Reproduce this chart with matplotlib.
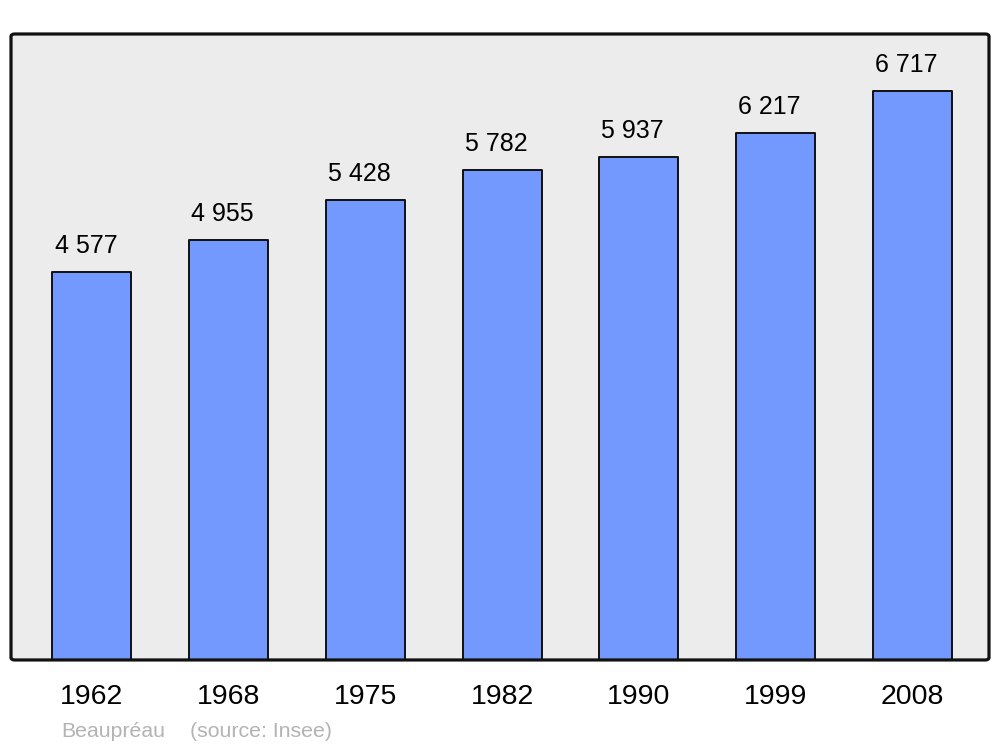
import numpy as np
import matplotlib.pyplot as plt
from matplotlib.patches import FancyBboxPatch

plt.rcParams['font.family'] = ['Liberation Sans', 'DejaVu Sans']

years = ['1962', '1968', '1975', '1982', '1990', '1999', '2008']
population = [4577, 4955, 5428, 5782, 5937, 6217, 6717]
value_labels = ['4 577', '4 955', '5 428', '5 782', '5 937', '6 217', '6 717']

fig = plt.figure(figsize=(10, 7.47), dpi=100)
ax = fig.add_axes([0.011, 0.1165, 0.978, 0.838])
ax.set_facecolor('#ececec')

x = np.arange(len(years))
width = 0.578
bars = ax.bar(x, population, width=width, color='#7399ff', edgecolor='#111111',
              linewidth=1.4, zorder=2)
for b in bars:
    b.set_joinstyle('round')

ax.set_xlim(-0.592, 6.56)
ax.set_ylim(0, max(population) * 1.1)

# value labels, left aligned over the bars
for xi, v, lab in zip(x, population, value_labels):
    ax.annotate(lab, (xi - width / 2, v), xytext=(1.5, 13.7), textcoords='offset points',
                ha='left', va='baseline', fontsize=18, color='black')

ax.set_xticks(x)
ax.set_xticklabels(years, fontsize=20.5)
ax.tick_params(axis='x', length=0, pad=17.5)
ax.set_yticks([])
for s in ax.spines.values():
    s.set_visible(False)

frame = FancyBboxPatch((0, 0), 1, 1, boxstyle='round,pad=0,rounding_size=0.004',
                       transform=ax.transAxes, facecolor='none', edgecolor='#111111',
                       linewidth=2.3, zorder=5, clip_on=False)
ax.add_patch(frame)

fig.text(0.061, 0.0134, 'Beaupréau', fontsize=15.3, color='#b3b3b3', ha='left', va='baseline')
fig.text(0.190, 0.0134, '(source: Insee)', fontsize=15.3, color='#b3b3b3', ha='left', va='baseline')

plt.savefig('out.png')
